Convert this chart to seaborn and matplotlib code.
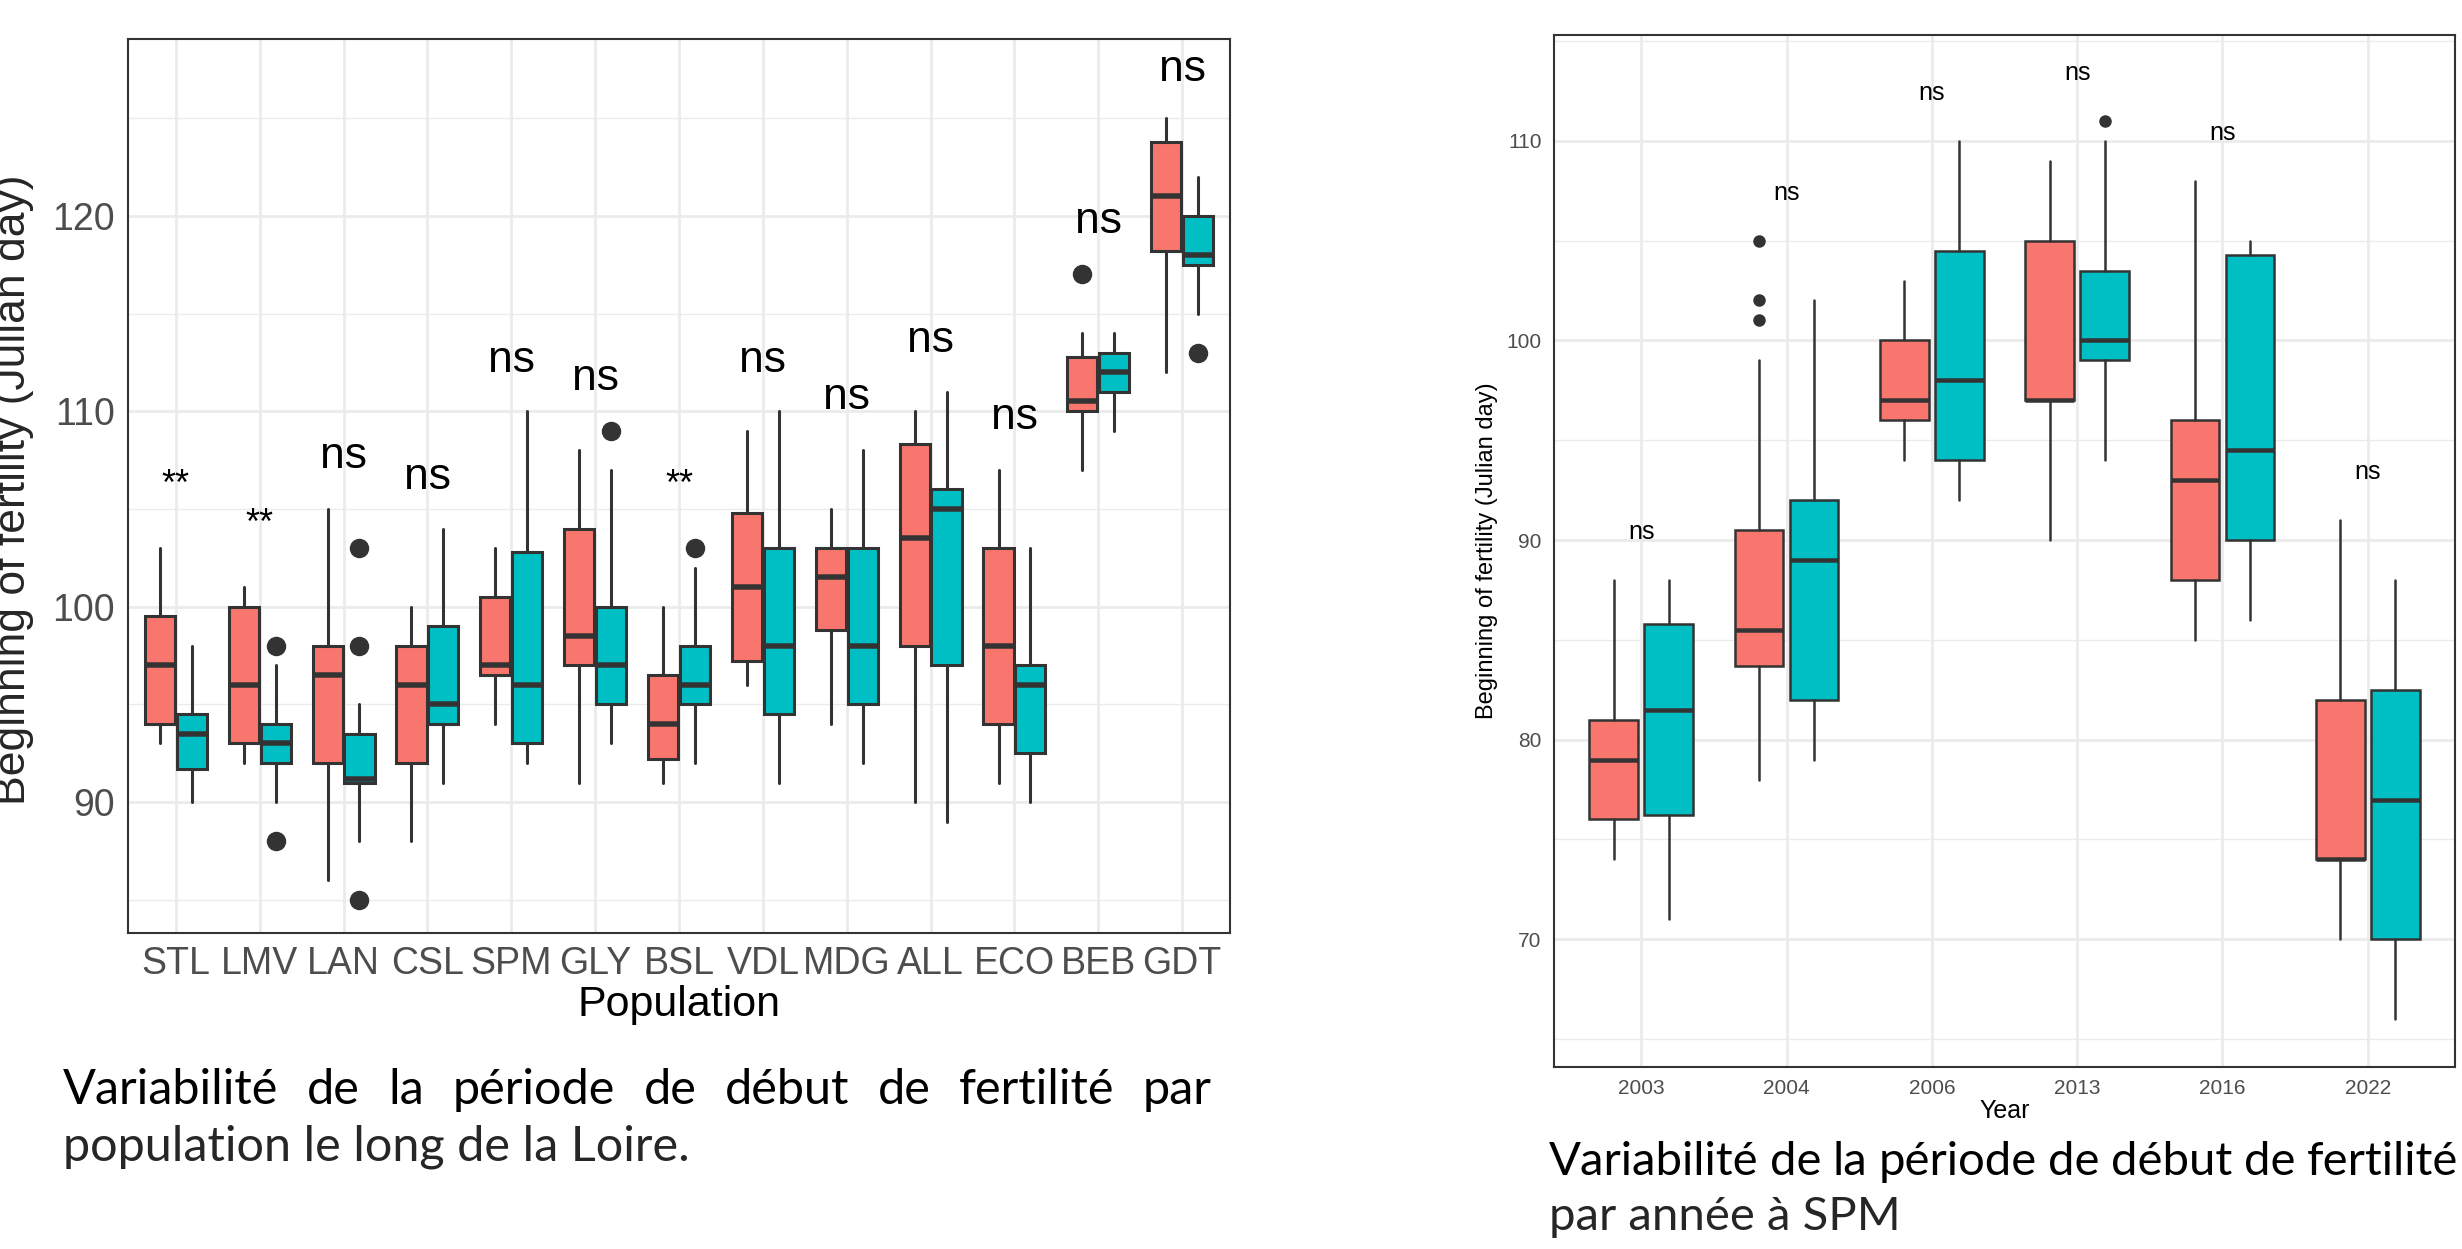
import matplotlib
matplotlib.use("Agg")
import matplotlib.pyplot as plt
import seaborn as sns

# ---- data (whislo, q1, median, q3, whishi) ----
populations = ["STL", "LMV", "LAN", "CSL", "SPM", "GLY", "BSL", "VDL", "MDG", "ALL", "ECO", "BEB", "GDT"]
pop_red = [
    [93, 94, 97, 99.5, 103], [92, 93, 96, 100, 101], [86, 92, 96.5, 98, 105],
    [88, 92, 96, 98, 100], [94, 96.5, 97, 100.5, 103], [91, 97, 98.5, 104, 108],
    [91, 92.2, 94, 96.5, 100], [96, 97.2, 101, 104.8, 109], [94, 98.8, 101.5, 103, 105],
    [90, 98, 103.5, 108.3, 110], [91, 94, 98, 103, 107], [107, 110, 110.5, 112.8, 114],
    [112, 118.2, 121, 123.8, 125],
]
pop_red_fliers = [[], [], [], [], [], [], [], [], [], [], [], [117], []]
pop_teal = [
    [90, 91.7, 93.5, 94.5, 98], [90, 92, 93, 94, 97], [88, 91, 91.2, 93.5, 95],
    [91, 94, 95, 99, 104], [92, 93, 96, 102.8, 110], [93, 95, 97, 100, 107],
    [92, 95, 96, 98, 102], [91, 94.5, 98, 103, 110], [92, 95, 98, 103, 108],
    [89, 97, 105, 106, 111], [90, 92.5, 96, 97, 103], [109, 111, 112, 113, 114],
    [115, 117.5, 118, 120, 122],
]
pop_teal_fliers = [[], [98, 88], [103, 98, 85], [], [], [109], [103], [], [], [], [], [], [113]]
pop_signif = ["**", "**", "ns", "ns", "ns", "ns", "**", "ns", "ns", "ns", "ns", "ns", "ns"]
pop_signif_y = [106.2, 104.2, 107.7, 106.6, 112.6, 111.7, 106.2, 112.6, 110.7, 113.6, 109.7, 119.7, 127.5]

years = ["2003", "2004", "2006", "2013", "2016", "2022"]
year_red = [
    [74, 76, 79, 81, 88], [78, 83.7, 85.5, 90.5, 99], [94, 96, 97, 100, 103],
    [90, 97, 97, 105, 109], [85, 88, 93, 96, 108], [70, 74, 74, 82, 91],
]
year_red_fliers = [[], [105, 102, 101], [], [], [], []]
year_teal = [
    [71, 76.2, 81.5, 85.8, 88], [79, 82, 89, 92, 102], [92, 94, 98, 104.5, 110],
    [94, 99, 100, 103.5, 110], [86, 90, 94.5, 104.3, 105], [66, 70, 77, 82.5, 88],
]
year_teal_fliers = [[], [], [], [111], [], []]
year_signif_y = [90.4, 107.4, 112.4, 113.4, 110.4, 93.4]

RED = "#F8766D"
TEAL = "#00BFC4"
EDGE = "#333333"

sns.set_theme(style="whitegrid")
plt.rcParams["font.family"] = ["Liberation Sans", "DejaVu Sans"]


def stats(rows, fliers):
    return [dict(whislo=r[0], q1=r[1], med=r[2], q3=r[3], whishi=r[4], fliers=f)
            for r, f in zip(rows, fliers)]


def draw_boxes(ax, rows, fliers, color, offset, width, lw, msize):
    pos = [i + offset for i in range(len(rows))]
    ax.bxp(stats(rows, fliers), positions=pos, widths=width, patch_artist=True,
           showcaps=False, manage_ticks=False,
           boxprops=dict(facecolor=color, edgecolor=EDGE, linewidth=lw),
           medianprops=dict(color=EDGE, linewidth=lw * 1.8),
           whiskerprops=dict(color=EDGE, linewidth=lw),
           flierprops=dict(marker="o", markerfacecolor=EDGE, markeredgecolor=EDGE,
                           markersize=msize))


def style_axes(ax, major, minor):
    ax.set_facecolor("white")
    ax.set_yticks(major)
    ax.set_yticks(minor, minor=True)
    ax.grid(True, which="major", color="#EBEBEB", linewidth=2)
    ax.grid(True, which="minor", axis="y", color="#EBEBEB", linewidth=1)
    for s in ax.spines.values():
        s.set_color(EDGE)
        s.set_linewidth(1.5)
    ax.tick_params(axis="both", which="major", length=6, color=EDGE, colors="#4D4D4D")
    ax.tick_params(axis="y", which="minor", length=0)
    ax.set_axisbelow(True)


def justify(fig, text, x0, x1, y, size):
    words = text.split()
    arts = [fig.text(0, y, w, fontsize=size, family="Lato", va="center", color="black")
            for w in words]
    fig.canvas.draw()
    r = fig.canvas.get_renderer()
    W = fig.get_figwidth() * fig.dpi
    widths = [a.get_window_extent(r).width / W for a in arts]
    gap = (x1 - x0 - sum(widths)) / max(len(words) - 1, 1)
    x = x0
    for a, w in zip(arts, widths):
        a.set_x(x)
        x += w + gap


fig = plt.figure(figsize=(24.62, 12.49), dpi=100)

# ---- left panel ----
ax1 = fig.add_axes([128 / 2462, 1 - 933 / 1249, 1102 / 2462, 894 / 1249])
style_axes(ax1, [90, 100, 110, 120], [85, 95, 105, 115, 125])
draw_boxes(ax1, pop_red, pop_red_fliers, RED, -0.19, 0.36, 2.2, 13)
draw_boxes(ax1, pop_teal, pop_teal_fliers, TEAL, 0.19, 0.36, 2.2, 13)
ax1.set_xlim(-0.57, 12.57)
ax1.set_ylim(83.3, 129.05)
ax1.set_xticks(range(len(populations)))
ax1.set_xticklabels(populations)
ax1.tick_params(axis="both", labelsize=27)
for i, (s, y) in enumerate(zip(pop_signif, pop_signif_y)):
    ax1.text(i, y, s, ha="center", va="center", fontsize=32 if s == "ns" else 26, color="black")
ax1.set_xlabel("Population", fontsize=31, color="black", labelpad=2)
fig.text(14 / 2462, 1 - 490 / 1249, "Beginning of fertility (Julian day)", rotation=90,
         ha="center", va="center", fontsize=32)

# ---- right panel ----
ax2 = fig.add_axes([1554 / 2462, 1 - 1067 / 1249, 901 / 2462, 1032 / 1249])
style_axes(ax2, [70, 80, 90, 100, 110], [65, 75, 85, 95, 105, 115])
draw_boxes(ax2, year_red, year_red_fliers, RED, -0.19, 0.335, 1.8, 8)
draw_boxes(ax2, year_teal, year_teal_fliers, TEAL, 0.19, 0.335, 1.8, 8)
ax2.set_xlim(-0.6, 5.6)
ax2.set_ylim(63.6, 115.3)
ax2.set_xticks(range(len(years)))
ax2.set_xticklabels(years)
ax2.tick_params(axis="both", labelsize=15, length=5, pad=4)
for i, y in enumerate(year_signif_y):
    ax2.text(i, y, "ns", ha="center", va="center", fontsize=18, color="black")
ax2.set_xlabel("Year", fontsize=18, color="black", labelpad=0)
ax2.set_ylabel("Beginning of fertility (Julian day)", fontsize=17, color="black", labelpad=6)

# ---- captions ----
justify(fig, "Variabilité de la période de début de fertilité par",
        63 / 2462, 1212 / 2462, 1 - 1090 / 1249, 35)
fig.text(63 / 2462, 1 - 1147 / 1249, "population le long de la Loire.", fontsize=35,
         family="Lato", va="center")
justify(fig, "Variabilité de la période de début de fertilité",
        1549 / 2462, 2458 / 2462, 1 - 1162 / 1249, 34)
fig.text(1549 / 2462, 1 - 1217 / 1249, "par année à SPM", fontsize=34,
         family="Lato", va="center")

fig.savefig("out.png", dpi=100, facecolor="white")
